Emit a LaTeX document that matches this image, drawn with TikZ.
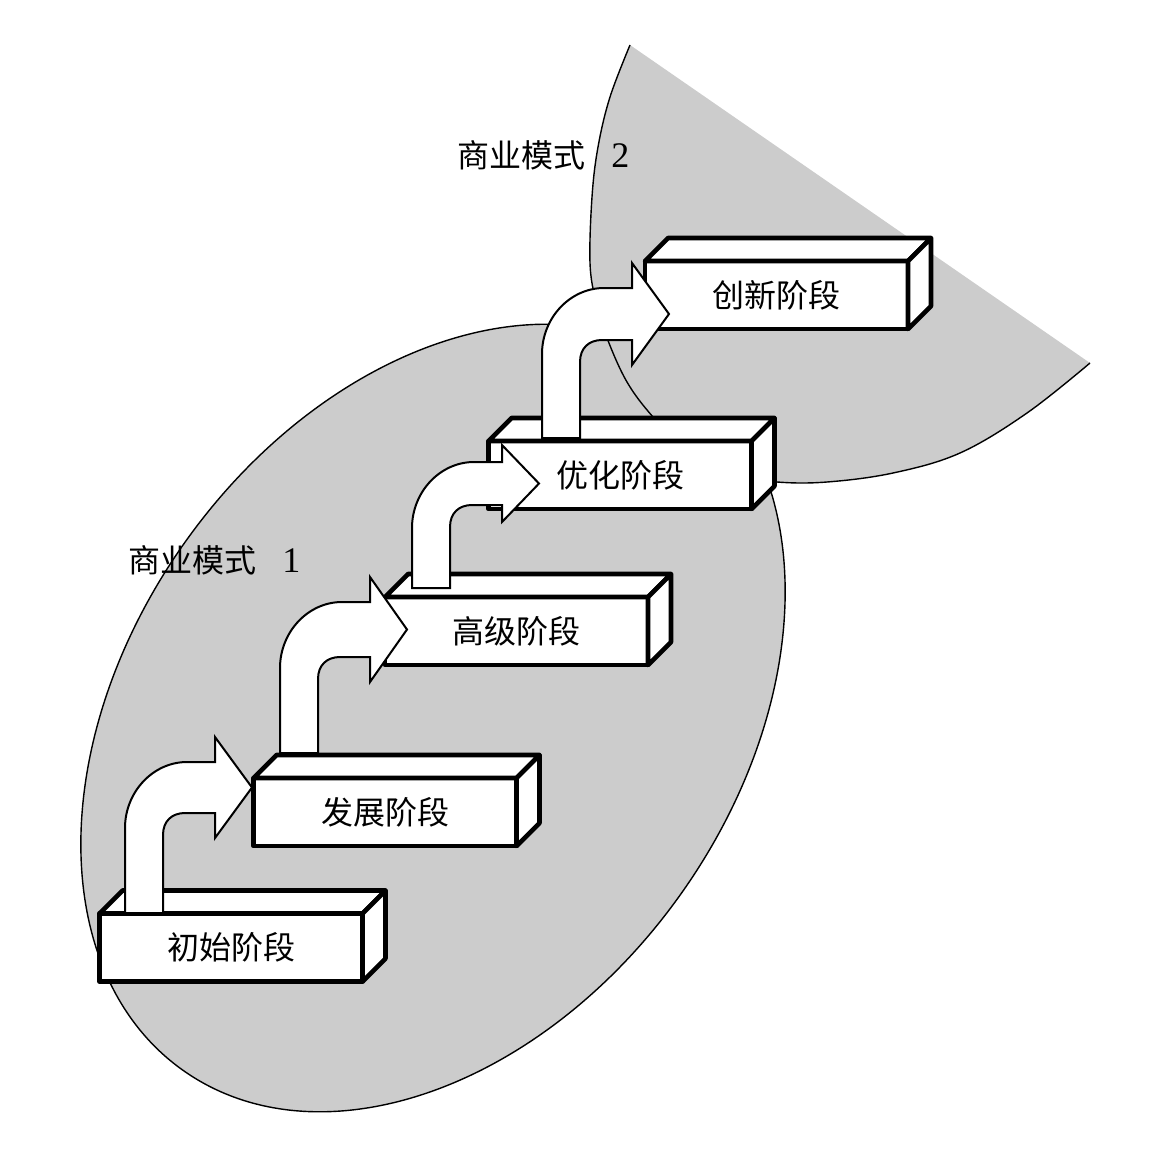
\documentclass[tikz,border=0pt]{standalone}
\usepackage{fontspec}
\newfontfamily\cjk{Noto Sans CJK SC}
\newfontfamily\numfont{Liberation Serif}
\usetikzlibrary{calc}
\definecolor{fillgray}{gray}{0.8}
\tikzset{
  stagebox/.style={draw, fill=white, line width=2.3pt, line join=round, minimum width=131.5pt, minimum height=34pt,
    inner sep=0pt, outer sep=0pt, font=\cjk\fontsize{16}{18}\selectfont},
  face/.style={draw, fill=white, line width=2.3pt, line join=round},
  bandarrow/.style={draw, fill=white, line width=1pt, line join=miter},
  region/.style={fill=fillgray},
  regionline/.style={draw, line width=0.7pt},
  modellabel/.style={font=\cjk\fontsize{16}{18}\selectfont, inner sep=0pt, anchor=west}
}
\newcommand\stagearrow[4]{%
  \draw[bandarrow] (#1)
    -- ($(#1)+(0,-#2+66)$)
    .. controls ($(#1)+(0,-#2+30)$) and ($(#1)+(28,-#2)$) .. ($(#1)+(62,-#2)$)
    -- ($(#1)+(90,-#2)$)
    -- ($(#1)+(90,-#2-#4)$)
    -- ($(#1)+(127,-#2+#3/2)$)
    -- ($(#1)+(90,-#2+#3+#4)$)
    -- ($(#1)+(90,-#2+#3)$)
    -- ($(#1)+(60,-#2+#3)$)
    .. controls ($(#1)+(47,-#2+#3)$) and ($(#1)+(38,-#2+#3+8)$) .. ($(#1)+(38,-#2+#3+22)$)
    -- ($(#1)+(38,0)$) -- cycle;}
\newcommand\boxfaces[1]{%
  \draw[face] (#1.north west) -- ++(23,-23) -- ++(263,0) -- (#1.north east) -- cycle;
  \draw[face] (#1.north east) -- ++(23,-23) -- ++(0,68) -- (#1.south east) -- cycle;}
\begin{document}
\begin{tikzpicture}[x=0.5pt,y=-0.5pt]
\useasboundingbox (0,0) rectangle (1151,1162);
% model 1 region
\path[region] (433,718) ellipse [x radius=432, y radius=304, rotate=54.6];
\path[regionline] (433,718) ellipse [x radius=432, y radius=304, rotate=54.6];
% model 2 region
\fill[fillgray] plot[smooth, tension=0.6] coordinates {(630,45) (610,97) (598,147) (592,197) (590,263) (596,302) (607,338) (627,382) (653,417) (690,455) (735,475) (777,482) (827,482) (893,473) (960,453) (1027,413) (1090,363)} -- cycle;
\draw[regionline] plot[smooth, tension=0.6] coordinates {(630,45) (610,97) (598,147) (592,197) (590,263) (596,302) (607,338) (627,382) (653,417) (690,455) (735,475) (777,482) (827,482) (893,473) (960,453) (1027,413) (1090,363)};
% labels
\node[modellabel] (m1) at (128,560) {商业模式\hspace{13pt}{\numfont\fontsize{18}{18}\selectfont 1}};
\node[modellabel] (m2) at (457,155) {商业模式\hspace{13pt}{\numfont\fontsize{18}{18}\selectfont 2}};
% stage boxes
\node[stagebox] (b1) at (231,947.5) {初始阶段};
\boxfaces{b1}
\node[stagebox] (b2) at (385,812) {发展阶段};
\boxfaces{b2}
\node[stagebox] (b3) at (516.5,631) {高级阶段};
\boxfaces{b3}
\node[stagebox] (b4) at (620,475) {优化阶段};
\boxfaces{b4}
\node[stagebox] (b5) at (776.5,295) {创新阶段};
\boxfaces{b5}
% arrows
\coordinate (s1) at (125,913);
\coordinate (s2) at (280,753);
\coordinate (s3) at (412,588);
\coordinate (s4) at (542,438);
\stagearrow{s1}{151}{51}{25}
\stagearrow{s2}{151}{55}{25}
\stagearrow{s3}{126}{43}{17}
\stagearrow{s4}{150}{52}{25}
\end{tikzpicture}
\end{document}
